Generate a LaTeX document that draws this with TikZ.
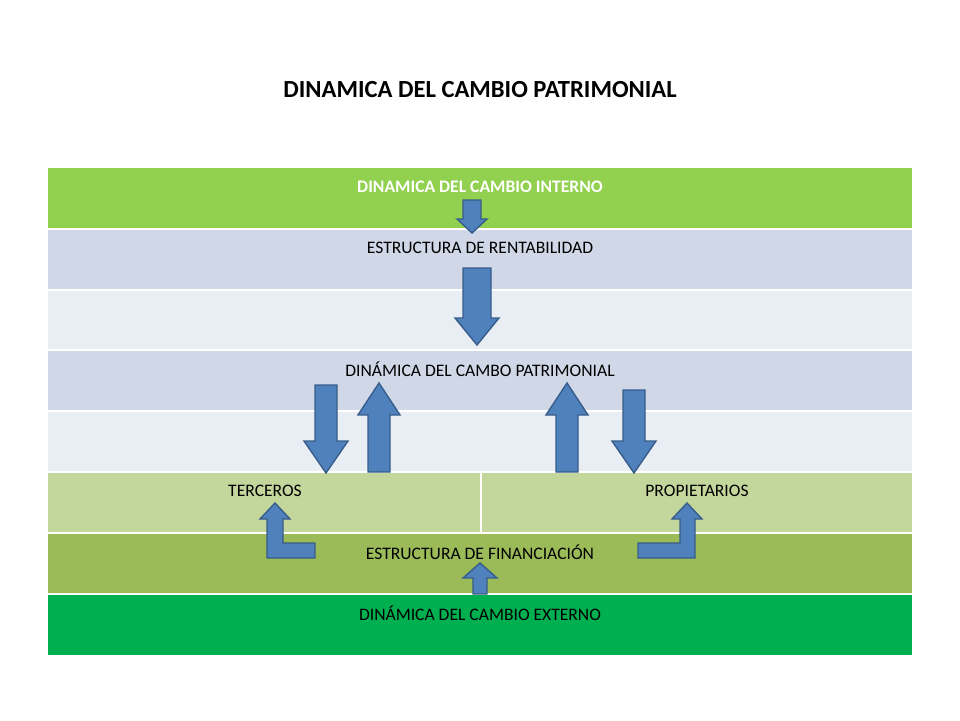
\documentclass[tikz,border=0pt]{standalone}
\usepackage{fontspec}
\setmainfont{Carlito}
\usetikzlibrary{positioning}
\definecolor{verdeA}{HTML}{92D050}
\definecolor{azulA}{HTML}{D0D8E8}
\definecolor{azulB}{HTML}{E9EDF4}
\definecolor{verdeB}{HTML}{C3D69B}
\definecolor{verdeC}{HTML}{9BBB59}
\definecolor{verdeD}{HTML}{00B050}
\definecolor{flecha}{HTML}{4F81BD}
\definecolor{borde}{HTML}{385D8A}
% vertical block arrow: x, tail y, tip y, shaft half, head half, head length
\newcommand{\flechav}[6]{%
  \pgfmathsetmacro{\s}{#3>#2 ? 1 : -1}%
  \draw[fa] (#1-#4,#2) -- (#1-#4,#3-\s*#6) -- (#1-#5,#3-\s*#6) -- (#1,#3)
    -- (#1+#5,#3-\s*#6) -- (#1+#4,#3-\s*#6) -- (#1+#4,#2) -- cycle;}
\begin{document}
\begin{tikzpicture}[x=0.02cm,y=-0.02cm,
    fila/.style={draw=white,line width=0.8pt,minimum height=61*0.02cm,
      text height=1.2ex,text depth=0.3ex,font=\normalsize,inner sep=0pt},
    fa/.style={fill=flecha,draw=borde,line width=0.8pt}
    ]
    \useasboundingbox (0,0) rectangle (960,720);
    \node[font=\fontsize{14}{16}\selectfont\bfseries] (titulo) at (480,90) {DINAMICA DEL CAMBIO PATRIMONIAL};
    % filas de la tabla
    \fill[verdeA] (48,168) rectangle (912,229);
    \fill[azulA] (48,229) rectangle (912,290);
    \fill[azulB] (48,290) rectangle (912,350);
    \fill[azulA] (48,350) rectangle (912,411);
    \fill[azulB] (48,411) rectangle (912,472);
    \fill[verdeB] (48,472) rectangle (912,533);
    \fill[verdeC] (48,533) rectangle (912,594);
    \fill[verdeD] (48,594) rectangle (912,655);
    \foreach \y in {229,290,350,411,472,533,594}
        \draw[white,line width=1pt] (48,\y) -- (912,\y);
    \draw[white,line width=1pt] (481,472) -- (481,533);
    \node[text=white,font=\bfseries] (interno) at (480,187) {DINAMICA DEL CAMBIO INTERNO};
    \node (rentab) at (480,248) {ESTRUCTURA DE RENTABILIDAD};
    \node (patrim) at (480,369) {DINÁMICA DEL CAMBO PATRIMONIAL};
    \node (terceros) at (265,491) {TERCEROS};
    \node (propiet) at (697,491) {PROPIETARIOS};
    \node (financ) at (480,552) {ESTRUCTURA DE FINANCIACIÓN};
    \node (externo) at (480,613) {DINÁMICA DEL CAMBIO EXTERNO};
    % flechas
    \flechav{472}{200}{233}{9}{15}{14}
    \flechav{477}{268}{345}{14}{22}{27}
    \flechav{326}{385}{473}{11}{22}{32}
    \flechav{379}{472}{383}{11}{21}{32}
    \flechav{567}{472}{383}{11}{21}{32}
    \flechav{634}{390}{473}{11}{22}{32}
    \flechav{480}{594}{563}{7}{17}{15}
    \draw[fa] (315,543) -- (283,543) -- (283,519) -- (290,519) -- (275,503)
      -- (260,519) -- (267,519) -- (267,558) -- (315,558) -- cycle;
    \draw[fa] (638,543) -- (680,543) -- (680,519) -- (672,519) -- (687,503)
      -- (702,519) -- (695,519) -- (695,558) -- (638,558) -- cycle;
\end{tikzpicture}
\end{document}
